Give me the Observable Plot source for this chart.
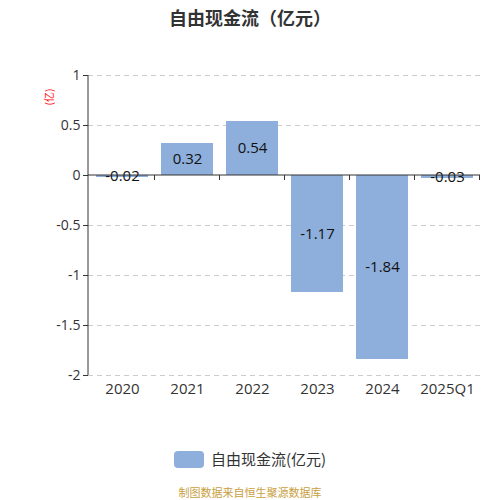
<!DOCTYPE html>
<html>
<head>
<meta charset="utf-8">
<script src="https://cdn.jsdelivr.net/npm/d3@7"></script>
<script src="https://cdn.jsdelivr.net/npm/@observablehq/plot@0.6"></script>
<style>
  body { margin: 0; background: #fff; font-family: "Noto Sans CJK SC", "Noto Sans", sans-serif; }
  #wrap { position: relative; width: 500px; height: 500px; overflow: hidden; }
  #title { position: absolute; top: 3px; left: 0; width: 500px; text-align: center; font-size: 18px; font-weight: bold; color: #333; line-height: 28px; }
  #chart { position: absolute; top: 35px; left: 0; }
  #legend { position: absolute; top: 448px; left: 0; width: 500px; display: flex; justify-content: center; align-items: center; font-size: 15px; color: #333; line-height: 22px; }
  #legend .sw { width: 30px; height: 17px; border-radius: 4px; background: #8eafdb; margin-right: 7px; }
  #footer { position: absolute; top: 484px; left: 0; width: 500px; text-align: center; font-size: 11px; color: #c9a040; }
</style>
</head>
<body>
<div id="wrap">
  <div id="title">自由现金流（亿元）</div>
  <div id="chart"></div>
  <div id="legend"><div class="sw"></div><span id="legendText"></span></div>
  <div id="footer">制图数据来自恒生聚源数据库</div>
</div>
<script>
const categories = ["2020", "2021", "2022", "2023", "2024", "2025Q1"];
const values = [-0.02, 0.32, 0.54, -1.17, -1.84, -0.03];
const yTicks = [1, 0.5, 0, -0.5, -1, -1.5, -2];
const seriesName = "自由现金流(亿元)";
const unitLabel = "(亿)";

document.getElementById("legendText").textContent = seriesName;

const data = categories.map((c, i) => ({cat: c, value: values[i]}));
const barColor = "#8eafdb";
const numFont = "Open Sans, Noto Sans CJK SC, sans-serif";
const cjkFont = "Noto Sans CJK SC, Noto Sans, sans-serif";

function decorations(index, scales, values, dims) {
  const x = scales.x, y = scales.y;
  const g = d3.create("svg:g");
  const step = x(categories[1]) - x(categories[0]);
  const bw = x.bandwidth ? x.bandwidth() : step * 0.8;
  const left = dims.marginLeft, right = dims.width - dims.marginRight;
  g.append("line").attr("x1", left).attr("x2", left).attr("y1", y(yTicks[0])).attr("y2", y(yTicks[yTicks.length - 1]))
    .attr("stroke", "#333").attr("stroke-width", 1);
  g.append("line").attr("x1", left).attr("x2", right).attr("y1", y(0)).attr("y2", y(0))
    .attr("stroke", "#333").attr("stroke-width", 1);
  categories.forEach(c => {
    const bx = x(c) + bw + (step - bw) / 2;
    g.append("line").attr("x1", bx).attr("x2", bx).attr("y1", y(0)).attr("y2", y(0) + 5)
      .attr("stroke", "#333").attr("stroke-width", 1);
  });
  g.append("text").attr("transform", `translate(${left - 38},${y(yTicks[0]) + 22}) rotate(-90)`)
    .attr("text-anchor", "middle").attr("dominant-baseline", "middle")
    .attr("fill", "#ff0000").attr("font-size", 10).attr("font-family", cjkFont).text(unitLabel);
  return g.node();
}

const plot = Plot.plot({
  width: 500,
  height: 370,
  marginTop: 40,
  marginLeft: 88,
  marginRight: 20,
  marginBottom: 30,
  style: {fontFamily: numFont, fontSize: "14px", color: "#333", background: "transparent"},
  x: {domain: categories, paddingInner: 0.2, paddingOuter: 0.1, label: null},
  y: {domain: [-2, 1], label: null},
  marks: [
    Plot.ruleY(yTicks.filter(t => t !== 0), {stroke: "#ccc", strokeDasharray: "5,4"}),
    Plot.barY(data, {x: "cat", y: "value", fill: barColor}),
    Plot.axisY(yTicks, {tickSize: 5, tickPadding: 3, tickFormat: d => String(d), fontSize: 14, label: null, stroke: "#333", fill: "#333"}),
    Plot.axisX({tickSize: 0, tickPadding: 8, fontSize: 15, label: null, fill: "#333"}),
    Plot.text(data, {x: "cat", y: d => d.value / 2, text: d => String(d.value), fill: "#111", fontSize: 15}),
    decorations
  ]
});
document.getElementById("chart").appendChild(plot);
</script>
</body>
</html>
